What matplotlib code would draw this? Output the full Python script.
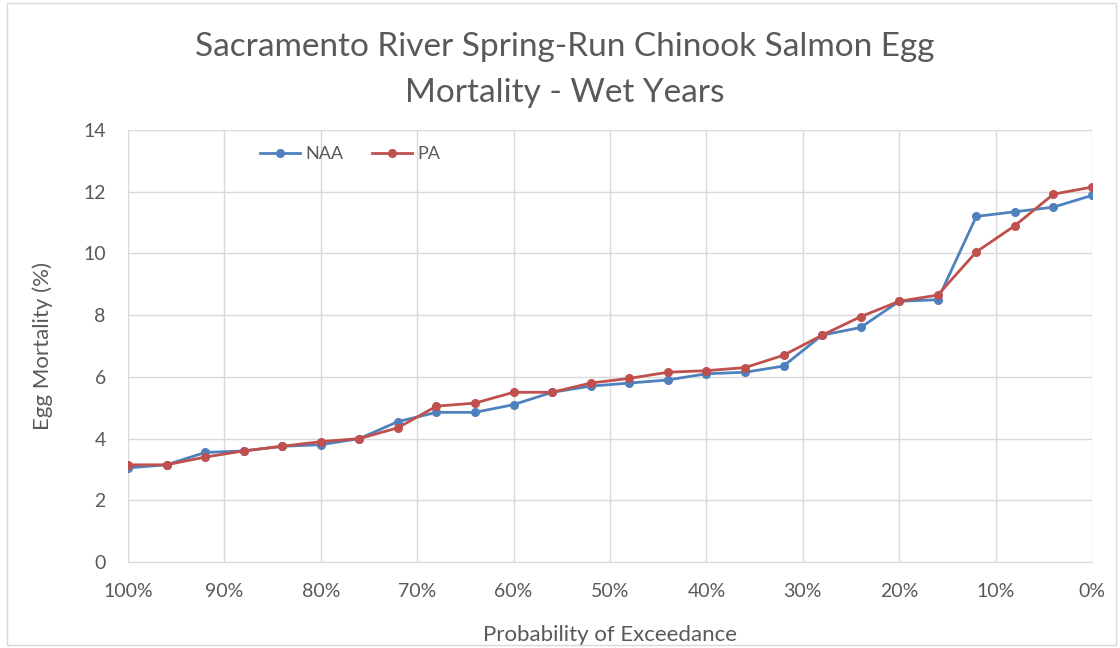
import matplotlib
matplotlib.use("Agg")
from matplotlib import pyplot as plt
from matplotlib.ticker import FuncFormatter
import numpy as np

# exceedance probability (%), from 100 down to 0 in 4% steps
exceedance = [100, 96, 92, 88, 84, 80, 76, 72, 68, 64, 60, 56, 52,
              48, 44, 40, 36, 32, 28, 24, 20, 16, 12, 8, 4, 0]
naa = [3.05, 3.15, 3.55, 3.6, 3.75, 3.8, 4.0, 4.55, 4.85, 4.85, 5.1, 5.5, 5.7,
       5.8, 5.9, 6.1, 6.15, 6.35, 7.35, 7.6, 8.45, 8.5, 11.2, 11.35, 11.5, 11.88]
pa = [3.15, 3.15, 3.4, 3.6, 3.75, 3.9, 4.0, 4.35, 5.05, 5.15, 5.5, 5.5, 5.8,
      5.95, 6.15, 6.2, 6.3, 6.7, 7.35, 7.95, 8.45, 8.65, 10.05, 10.9, 11.92, 12.15]

xticks = [100, 90, 80, 70, 60, 50, 40, 30, 20, 10, 0]
yticks = [0, 2, 4, 6, 8, 10, 12, 14]

textColor = '#595959'
gridColor = '#d9d9d9'

plt.rcParams['font.family'] = ['Lato', 'DejaVu Sans']

figure = plt.figure(figsize=(11.2, 6.48), dpi=100)
axes = figure.add_axes([0.1143, 0.1327, 0.8607, 0.6667])

axes.plot(exceedance, naa, color='#4f81bd', linewidth=2, marker='o', markersize=5.5, label='NAA')
axes.plot(exceedance, pa, color='#c0504d', linewidth=2, marker='o', markersize=5.5, label='PA')

axes.set_xlim(100, 0)
axes.set_ylim(0, 14)
axes.set_xticks(xticks)
axes.set_yticks(yticks)
axes.xaxis.set_major_formatter(FuncFormatter(lambda v, pos: f'{v:.0f}%'))
axes.grid(True, color=gridColor, linewidth=1)
axes.set_axisbelow(True)
axes.tick_params(length=0, labelsize=14, labelcolor=textColor)
axes.tick_params(axis='x', pad=15)
axes.tick_params(axis='y', pad=16)

for side in ['top', 'right', 'left']:
    axes.spines[side].set_visible(False)
axes.spines['bottom'].set_color(gridColor)

axes.set_xlabel('Probability of Exceedance', fontsize=16, color=textColor, labelpad=18)
axes.set_ylabel('Egg Mortality (%)', fontsize=16, color=textColor, labelpad=22)

figure.text(0.504, 0.892, 'Sacramento River Spring-Run Chinook Salmon Egg\nMortality - Wet Years',
            ha='center', va='center', fontsize=24, color=textColor, linespacing=1.65)

axes.legend(loc='upper left', bbox_to_anchor=(0.12, 1.0), ncol=2, frameon=False,
            fontsize=13, labelcolor=textColor, handlelength=2.2, handletextpad=0.3,
            columnspacing=1.6)

# outer chart border
figure.patches.append(plt.Rectangle((0.006, 0.005), 0.99, 0.99, transform=figure.transFigure,
                                    fill=False, edgecolor='#d9d9d9', linewidth=1))

figure.savefig('out.png', dpi=100)
